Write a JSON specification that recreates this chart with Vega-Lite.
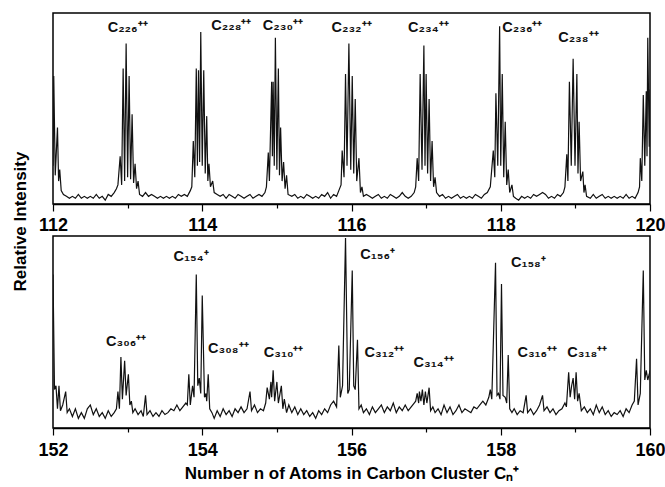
{
  "$schema": "https://vega.github.io/schema/vega-lite/v6.json",
  "background": "white",
  "padding": {"left": 10, "top": 12, "right": 0, "bottom": 5},
  "bounds": "flush",
  "spacing": 32,
  "config": {
    "view": {"stroke": "black", "strokeWidth": 1.5},
    "font": "Liberation Sans",
    "axis": {
      "grid": false,
      "labelFont": "Liberation Sans",
      "labelFontWeight": "bold",
      "labelFontSize": 18,
      "labelColor": "black",
      "titleFont": "Liberation Sans",
      "titleFontWeight": "bold",
      "titleFontSize": 17,
      "titleColor": "black",
      "domainColor": "black",
      "domainWidth": 1.5,
      "tickColor": "black",
      "tickWidth": 1.2
    }
  },
  "datasets": {
    "top": [
      {"n":112.00,"I":20},{"n":112.01,"I":67},{"n":112.03,"I":15},{"n":112.06,"I":40},{"n":112.075,"I":12},{"n":112.09,"I":18},{"n":112.11,"I":7},{"n":112.14,"I":5},{"n":112.18,"I":4},{"n":112.22,"I":3},{"n":112.26,"I":4},{"n":112.30,"I":3},{"n":112.34,"I":5},{"n":112.38,"I":3},{"n":112.42,"I":4},{"n":112.46,"I":3},{"n":112.50,"I":4},{"n":112.54,"I":3},{"n":112.58,"I":5},{"n":112.62,"I":3},{"n":112.66,"I":4},{"n":112.70,"I":2},{"n":112.74,"I":5},{"n":112.78,"I":4},{"n":112.82,"I":6},{"n":112.85,"I":8},{"n":112.87,"I":10},
      {"n":112.90,"I":25},{"n":112.92,"I":10},{"n":112.94,"I":71},{"n":112.96,"I":12},{"n":112.98,"I":84},{"n":113.00,"I":14},{"n":113.02,"I":67},{"n":113.04,"I":13},{"n":113.06,"I":47},{"n":113.08,"I":11},{"n":113.10,"I":21},{"n":113.12,"I":8},{"n":113.14,"I":12},{"n":113.16,"I":5},
      {"n":113.20,"I":4},{"n":113.24,"I":6},{"n":113.28,"I":4},{"n":113.32,"I":5},{"n":113.36,"I":4},{"n":113.40,"I":3},{"n":113.44,"I":4},{"n":113.48,"I":3},{"n":113.52,"I":4},{"n":113.56,"I":3},{"n":113.60,"I":4},{"n":113.64,"I":3},{"n":113.68,"I":5},{"n":113.72,"I":4},{"n":113.76,"I":5},{"n":113.80,"I":4},{"n":113.84,"I":7},{"n":113.86,"I":9},
      {"n":113.88,"I":33},{"n":113.90,"I":14},{"n":113.92,"I":71},{"n":113.935,"I":20},{"n":113.95,"I":70},{"n":113.965,"I":22},{"n":113.98,"I":90},{"n":114.00,"I":20},{"n":114.02,"I":70},{"n":114.04,"I":16},{"n":114.06,"I":46},{"n":114.075,"I":12},{"n":114.09,"I":21},{"n":114.11,"I":9},{"n":114.14,"I":12},{"n":114.16,"I":6},
      {"n":114.20,"I":5},{"n":114.24,"I":4},{"n":114.28,"I":5},{"n":114.32,"I":3},{"n":114.36,"I":5},{"n":114.40,"I":4},{"n":114.44,"I":3},{"n":114.48,"I":5},{"n":114.52,"I":4},{"n":114.56,"I":3},{"n":114.60,"I":4},{"n":114.64,"I":5},{"n":114.68,"I":3},{"n":114.72,"I":4},{"n":114.76,"I":5},{"n":114.80,"I":4},{"n":114.84,"I":6},{"n":114.86,"I":9},
      {"n":114.885,"I":27},{"n":114.90,"I":12},{"n":114.93,"I":64},{"n":114.94,"I":25},{"n":114.95,"I":64},{"n":114.965,"I":20},{"n":114.98,"I":87},{"n":115.00,"I":18},{"n":115.02,"I":71},{"n":115.035,"I":15},{"n":115.05,"I":40},{"n":115.07,"I":12},{"n":115.09,"I":22},{"n":115.11,"I":8},{"n":115.13,"I":15},{"n":115.15,"I":5},
      {"n":115.20,"I":4},{"n":115.24,"I":5},{"n":115.28,"I":3},{"n":115.32,"I":4},{"n":115.36,"I":3},{"n":115.40,"I":5},{"n":115.44,"I":4},{"n":115.48,"I":3},{"n":115.52,"I":4},{"n":115.56,"I":3},{"n":115.60,"I":5},{"n":115.64,"I":4},{"n":115.68,"I":6},{"n":115.72,"I":3},{"n":115.76,"I":5},{"n":115.80,"I":4},{"n":115.83,"I":7},{"n":115.86,"I":10},
      {"n":115.875,"I":28},{"n":115.90,"I":14},{"n":115.92,"I":68},{"n":115.94,"I":20},{"n":115.965,"I":84},{"n":115.99,"I":18},{"n":116.01,"I":67},{"n":116.03,"I":16},{"n":116.05,"I":55},{"n":116.07,"I":12},{"n":116.10,"I":24},{"n":116.12,"I":6},{"n":116.14,"I":9},{"n":116.16,"I":4},
      {"n":116.20,"I":5},{"n":116.24,"I":4},{"n":116.28,"I":3},{"n":116.32,"I":4},{"n":116.36,"I":5},{"n":116.40,"I":3},{"n":116.44,"I":4},{"n":116.48,"I":3},{"n":116.52,"I":5},{"n":116.56,"I":4},{"n":116.60,"I":3},{"n":116.64,"I":4},{"n":116.68,"I":6},{"n":116.72,"I":4},{"n":116.76,"I":3},{"n":116.80,"I":4},{"n":116.84,"I":6},{"n":116.86,"I":9},
      {"n":116.88,"I":24},{"n":116.90,"I":12},{"n":116.92,"I":68},{"n":116.945,"I":18},{"n":116.97,"I":83},{"n":116.985,"I":20},{"n":117.00,"I":68},{"n":117.02,"I":16},{"n":117.04,"I":55},{"n":117.06,"I":12},{"n":117.08,"I":33},{"n":117.10,"I":9},{"n":117.12,"I":14},{"n":117.14,"I":6},
      {"n":117.18,"I":4},{"n":117.22,"I":5},{"n":117.26,"I":3},{"n":117.30,"I":4},{"n":117.34,"I":3},{"n":117.38,"I":4},{"n":117.42,"I":5},{"n":117.46,"I":3},{"n":117.50,"I":4},{"n":117.54,"I":3},{"n":117.58,"I":4},{"n":117.62,"I":3},{"n":117.66,"I":5},{"n":117.70,"I":4},{"n":117.74,"I":3},{"n":117.78,"I":5},{"n":117.82,"I":6},{"n":117.86,"I":9},
      {"n":117.90,"I":28},{"n":117.92,"I":14},{"n":117.935,"I":58},{"n":117.96,"I":20},{"n":117.985,"I":93},{"n":118.00,"I":20},{"n":118.02,"I":68},{"n":118.04,"I":14},{"n":118.06,"I":43},{"n":118.08,"I":10},{"n":118.10,"I":18},{"n":118.12,"I":6},{"n":118.15,"I":10},{"n":118.17,"I":4},
      {"n":118.20,"I":3},{"n":118.24,"I":2},{"n":118.28,"I":4},{"n":118.32,"I":3},{"n":118.36,"I":4},{"n":118.40,"I":3},{"n":118.44,"I":5},{"n":118.48,"I":4},{"n":118.52,"I":5},{"n":118.56,"I":6},{"n":118.60,"I":5},{"n":118.64,"I":3},{"n":118.68,"I":4},{"n":118.72,"I":3},{"n":118.76,"I":5},{"n":118.80,"I":4},{"n":118.84,"I":6},{"n":118.86,"I":9},
      {"n":118.885,"I":26},{"n":118.90,"I":12},{"n":118.92,"I":64},{"n":118.945,"I":20},{"n":118.97,"I":76},{"n":118.995,"I":20},{"n":119.02,"I":68},{"n":119.035,"I":16},{"n":119.05,"I":43},{"n":119.07,"I":12},{"n":119.10,"I":17},{"n":119.115,"I":6},{"n":119.13,"I":10},{"n":119.15,"I":4},
      {"n":119.20,"I":3},{"n":119.24,"I":5},{"n":119.28,"I":3},{"n":119.32,"I":4},{"n":119.36,"I":5},{"n":119.40,"I":3},{"n":119.44,"I":4},{"n":119.48,"I":3},{"n":119.52,"I":4},{"n":119.56,"I":3},{"n":119.60,"I":4},{"n":119.64,"I":3},{"n":119.68,"I":5},{"n":119.72,"I":3},{"n":119.76,"I":4},{"n":119.80,"I":3},{"n":119.84,"I":6},{"n":119.86,"I":9},
      {"n":119.87,"I":24},{"n":119.89,"I":12},{"n":119.91,"I":57},{"n":119.93,"I":20},{"n":119.95,"I":59},{"n":119.96,"I":25},{"n":119.97,"I":87},{"n":119.99,"I":30},{"n":120.00,"I":60}
    ],
    "bottom": [
      {"n":152.00,"I":80},{"n":152.02,"I":20},{"n":152.04,"I":22},{"n":152.06,"I":10},{"n":152.08,"I":22},{"n":152.10,"I":9},{"n":152.13,"I":12},{"n":152.17,"I":19},{"n":152.19,"I":8},{"n":152.22,"I":10},{"n":152.26,"I":6},{"n":152.30,"I":10},{"n":152.34,"I":5},{"n":152.38,"I":8},{"n":152.42,"I":5},{"n":152.46,"I":10},{"n":152.50,"I":12},{"n":152.54,"I":7},{"n":152.58,"I":10},{"n":152.62,"I":6},{"n":152.66,"I":8},{"n":152.70,"I":5},{"n":152.74,"I":9},{"n":152.78,"I":6},{"n":152.82,"I":8},{"n":152.85,"I":10},
      {"n":152.87,"I":19},{"n":152.89,"I":10},{"n":152.91,"I":37},{"n":152.93,"I":15},{"n":152.96,"I":35},{"n":152.98,"I":17},{"n":153.01,"I":28},{"n":153.03,"I":12},{"n":153.05,"I":14},{"n":153.07,"I":8},{"n":153.10,"I":10},{"n":153.14,"I":7},{"n":153.18,"I":9},{"n":153.21,"I":6},{"n":153.24,"I":17},{"n":153.26,"I":7},{"n":153.30,"I":9},{"n":153.34,"I":6},{"n":153.38,"I":8},{"n":153.42,"I":6},{"n":153.46,"I":9},{"n":153.50,"I":7},{"n":153.54,"I":8},{"n":153.58,"I":10},{"n":153.62,"I":9},{"n":153.66,"I":12},{"n":153.70,"I":9},{"n":153.74,"I":11},{"n":153.78,"I":13},{"n":153.80,"I":12},
      {"n":153.82,"I":28},{"n":153.84,"I":12},{"n":153.87,"I":22},{"n":153.89,"I":16},{"n":153.92,"I":80},{"n":153.94,"I":22},{"n":153.96,"I":26},{"n":153.98,"I":18},{"n":154.00,"I":69},{"n":154.03,"I":16},{"n":154.05,"I":18},{"n":154.06,"I":14},{"n":154.08,"I":28},{"n":154.10,"I":10},{"n":154.13,"I":8},{"n":154.16,"I":5},{"n":154.20,"I":9},{"n":154.24,"I":6},{"n":154.28,"I":10},{"n":154.32,"I":7},{"n":154.36,"I":9},{"n":154.40,"I":6},{"n":154.44,"I":10},{"n":154.48,"I":8},{"n":154.52,"I":11},{"n":154.56,"I":8},{"n":154.60,"I":10},{"n":154.64,"I":19},{"n":154.66,"I":9},{"n":154.70,"I":12},{"n":154.74,"I":8},{"n":154.78,"I":10},{"n":154.82,"I":9},{"n":154.85,"I":13},
      {"n":154.87,"I":21},{"n":154.90,"I":15},{"n":154.92,"I":24},{"n":154.93,"I":16},{"n":154.95,"I":30},{"n":154.97,"I":14},{"n":155.00,"I":24},{"n":155.02,"I":13},{"n":155.06,"I":22},{"n":155.08,"I":10},{"n":155.10,"I":15},{"n":155.13,"I":8},{"n":155.16,"I":12},{"n":155.20,"I":8},{"n":155.24,"I":11},{"n":155.28,"I":7},{"n":155.32,"I":10},{"n":155.36,"I":7},{"n":155.40,"I":9},{"n":155.44,"I":6},{"n":155.48,"I":8},{"n":155.52,"I":5},{"n":155.56,"I":9},{"n":155.60,"I":7},{"n":155.64,"I":10},{"n":155.68,"I":8},{"n":155.72,"I":12},{"n":155.76,"I":14},{"n":155.80,"I":11},
      {"n":155.81,"I":20},{"n":155.83,"I":43},{"n":155.85,"I":16},{"n":155.88,"I":22},{"n":155.92,"I":99},{"n":155.95,"I":18},{"n":155.97,"I":20},{"n":156.01,"I":82},{"n":156.03,"I":22},{"n":156.05,"I":20},{"n":156.08,"I":46},{"n":156.10,"I":10},{"n":156.13,"I":12},{"n":156.16,"I":8},{"n":156.20,"I":10},{"n":156.24,"I":7},{"n":156.28,"I":11},{"n":156.32,"I":8},{"n":156.36,"I":10},{"n":156.40,"I":12},{"n":156.44,"I":8},{"n":156.48,"I":11},{"n":156.52,"I":9},{"n":156.56,"I":13},{"n":156.60,"I":8},{"n":156.64,"I":11},{"n":156.68,"I":9},{"n":156.72,"I":12},{"n":156.76,"I":9},{"n":156.80,"I":11},{"n":156.84,"I":13},{"n":156.86,"I":14},
      {"n":156.88,"I":18},{"n":156.90,"I":13},{"n":156.91,"I":19},{"n":156.93,"I":14},{"n":156.95,"I":20},{"n":156.97,"I":12},{"n":156.99,"I":19},{"n":157.01,"I":13},{"n":157.04,"I":21},{"n":157.06,"I":9},{"n":157.09,"I":11},{"n":157.12,"I":8},{"n":157.16,"I":10},{"n":157.20,"I":7},{"n":157.24,"I":12},{"n":157.28,"I":8},{"n":157.32,"I":11},{"n":157.36,"I":7},{"n":157.40,"I":9},{"n":157.44,"I":12},{"n":157.48,"I":8},{"n":157.52,"I":10},{"n":157.56,"I":9},{"n":157.60,"I":8},{"n":157.64,"I":11},{"n":157.68,"I":10},{"n":157.72,"I":12},{"n":157.76,"I":14},{"n":157.80,"I":12},{"n":157.84,"I":16},
      {"n":157.86,"I":20},{"n":157.88,"I":15},{"n":157.93,"I":86},{"n":157.95,"I":17},{"n":157.97,"I":18},{"n":157.99,"I":15},{"n":158.01,"I":75},{"n":158.03,"I":17},{"n":158.06,"I":16},{"n":158.08,"I":13},{"n":158.10,"I":38},{"n":158.12,"I":10},{"n":158.15,"I":8},{"n":158.18,"I":10},{"n":158.22,"I":7},{"n":158.26,"I":9},{"n":158.30,"I":8},{"n":158.34,"I":17},{"n":158.36,"I":8},{"n":158.40,"I":10},{"n":158.44,"I":7},{"n":158.48,"I":9},{"n":158.52,"I":12},{"n":158.56,"I":17},{"n":158.58,"I":9},{"n":158.62,"I":11},{"n":158.66,"I":8},{"n":158.70,"I":10},{"n":158.74,"I":7},{"n":158.78,"I":9},{"n":158.82,"I":10},{"n":158.86,"I":13},{"n":158.88,"I":11},
      {"n":158.91,"I":29},{"n":158.93,"I":16},{"n":158.95,"I":22},{"n":158.97,"I":26},{"n":158.99,"I":15},{"n":159.01,"I":29},{"n":159.03,"I":14},{"n":159.05,"I":18},{"n":159.08,"I":9},{"n":159.12,"I":11},{"n":159.16,"I":8},{"n":159.20,"I":10},{"n":159.24,"I":7},{"n":159.28,"I":12},{"n":159.32,"I":8},{"n":159.36,"I":11},{"n":159.40,"I":7},{"n":159.44,"I":9},{"n":159.48,"I":6},{"n":159.52,"I":8},{"n":159.56,"I":7},{"n":159.60,"I":9},{"n":159.64,"I":6},{"n":159.68,"I":10},{"n":159.72,"I":8},{"n":159.76,"I":12},{"n":159.79,"I":14},
      {"n":159.82,"I":36},{"n":159.84,"I":12},{"n":159.87,"I":18},{"n":159.91,"I":82},{"n":159.93,"I":25},{"n":159.95,"I":30},{"n":159.97,"I":25},{"n":159.99,"I":28},{"n":160.00,"I":30}
    ],
    "toplab": [
      {"n":113.0,"I":92,"label":"C₂₂₆⁺⁺"},
      {"n":114.39,"I":93,"label":"C₂₂₈⁺⁺"},
      {"n":115.08,"I":93,"label":"C₂₃₀⁺⁺"},
      {"n":116.0,"I":92,"label":"C₂₃₂⁺⁺"},
      {"n":117.03,"I":92,"label":"C₂₃₄⁺⁺"},
      {"n":118.29,"I":92,"label":"C₂₃₆⁺⁺"},
      {"n":119.04,"I":87,"label":"C₂₃₈⁺⁺"}
    ],
    "botlab": [
      {"n":152.98,"I":45,"label":"C₃₀₆⁺⁺"},
      {"n":153.85,"I":89,"label":"C₁₅₄⁺"},
      {"n":154.35,"I":41,"label":"C₃₀₈⁺⁺"},
      {"n":155.09,"I":39,"label":"C₃₁₀⁺⁺"},
      {"n":156.35,"I":90,"label":"C₁₅₆⁺"},
      {"n":156.44,"I":39,"label":"C₃₁₂⁺⁺"},
      {"n":157.1,"I":34,"label":"C₃₁₄⁺⁺"},
      {"n":158.37,"I":86,"label":"C₁₅₈⁺"},
      {"n":158.49,"I":39,"label":"C₃₁₆⁺⁺"},
      {"n":159.16,"I":39,"label":"C₃₁₈⁺⁺"}
    ]
  },
  "vconcat": [
    {
      "width": 597,
      "height": 191,
      "layer": [
        {
          "data": {"name": "top"},
          "mark": {"type": "line", "color": "#111", "strokeWidth": 1.2, "clip": true},
          "encoding": {
            "x": {"field": "n", "type": "quantitative",
              "scale": {"domain": [112, 120], "nice": false, "zero": false},
              "axis": {"title": null, "values": [112,112.5,113,113.5,114,114.5,115,115.5,116,116.5,117,117.5,118,118.5,119,119.5,120],
                "labelExpr": "datum.value % 2 == 0 ? '' + datum.value : ''",
                "labelFlush": false, "labelPadding": 5,
                "tickSize": {"condition": {"test": "datum.value % 2 == 0", "value": 7}, "value": 4}}},
            "y": {"field": "I", "type": "quantitative",
              "scale": {"domain": [0, 100]},
              "axis": {"title": "Relative Intensity", "labels": false, "ticks": false, "domain": false, "titleY": 208, "titlePadding": 24}}
          }
        },
        {
          "data": {"name": "toplab"},
          "mark": {"type": "text", "fontWeight": "bold", "fontSize": 14.5, "color": "#111", "align": "center", "baseline": "middle"},
          "encoding": {
            "x": {"field": "n", "type": "quantitative"},
            "y": {"field": "I", "type": "quantitative"},
            "text": {"field": "label"}
          }
        }
      ]
    },
    {
      "width": 597,
      "height": 192,
      "layer": [
        {
          "data": {"name": "bottom"},
          "mark": {"type": "line", "color": "#111", "strokeWidth": 1.2, "clip": true},
          "encoding": {
            "x": {"field": "n", "type": "quantitative",
              "scale": {"domain": [152, 160], "nice": false, "zero": false},
              "axis": {"title": "Number n of Atoms in Carbon Cluster Cₙ⁺", "titlePadding": 6,
                "values": [152,152.5,153,153.5,154,154.5,155,155.5,156,156.5,157,157.5,158,158.5,159,159.5,160],
                "labelExpr": "datum.value % 2 == 0 ? '' + datum.value : ''",
                "labelFlush": false, "labelPadding": 6,
                "tickSize": {"condition": {"test": "datum.value % 2 == 0", "value": 7}, "value": 4}}},
            "y": {"field": "I", "type": "quantitative",
              "scale": {"domain": [0, 100]},
              "axis": {"title": null, "labels": false, "ticks": false, "domain": false}}
          }
        },
        {
          "data": {"name": "botlab"},
          "mark": {"type": "text", "fontWeight": "bold", "fontSize": 14.5, "color": "#111", "align": "center", "baseline": "middle"},
          "encoding": {
            "x": {"field": "n", "type": "quantitative"},
            "y": {"field": "I", "type": "quantitative"},
            "text": {"field": "label"}
          }
        }
      ]
    }
  ]
}
